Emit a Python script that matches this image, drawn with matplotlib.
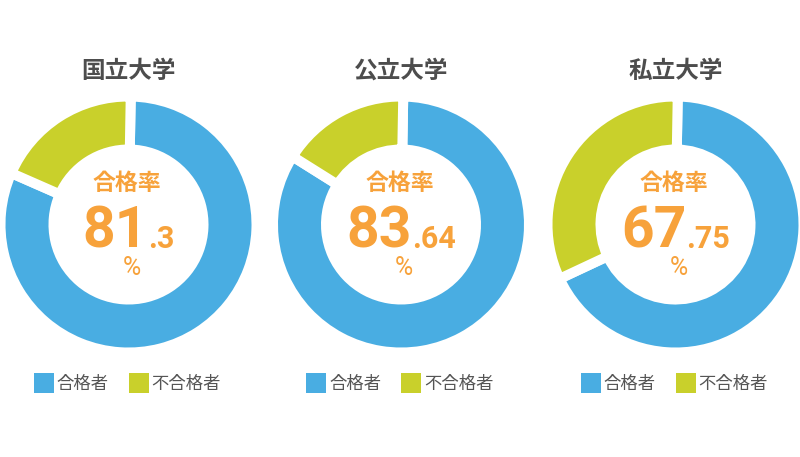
import matplotlib
matplotlib.use("Agg")
import matplotlib.pyplot as plt
from matplotlib.patches import Rectangle

plt.rcParams['font.family'] = ['Noto Sans CJK JP', 'DejaVu Sans']

# 大学区分ごとの合格率 (%)
schools = ["国立大学", "公立大学", "私立大学"]
pass_rate = ["81.3", "83.64", "67.75"]
legend_labels = ["合格者", "不合格者"]

BLUE = "#49ADE2"
GREEN = "#C9D02B"
ORANGE = "#F7A23B"
GRAY = "#4D4D4D"

W, H = 800, 457
centers_x = [128.5, 401, 675.5]
cy = H - 224.5

fig = plt.figure(figsize=(W / 100, H / 100), dpi=100)
ax = fig.add_axes([0, 0, 1, 1])

nums = []
for i, name in enumerate(schools):
    rate = float(pass_rate[i])
    cx = centers_x[i]

    ##### ドーナツ #####
    ax.pie([rate, 100 - rate], colors=[BLUE, GREEN], startangle=89,
           counterclock=False, center=(cx, cy), radius=128, frame=True,
           wedgeprops=dict(width=53, edgecolor="white", linewidth=7.2))

    # タイトル
    ax.text(cx, H - 71, name, fontsize=17, fontweight="bold", color=GRAY,
            ha="center", va="center")

    ##### 中央のテキスト #####
    ax.text(cx - 1.5, H - 183, "合格率", fontsize=16.5, fontweight="bold",
            color=ORANGE, ha="center", va="center")
    int_part, dec_part = pass_rate[i].split(".")
    big = ax.text(cx, H - 248, int_part, fontsize=41, fontweight="bold",
                  family=["Roboto"], color=ORANGE, ha="left", va="baseline")
    small = ax.text(cx, H - 248, "." + dec_part, fontsize=22, fontweight="bold",
                    family=["Roboto"], color=ORANGE, ha="left", va="baseline")
    nums.append((cx, big, small))
    ax.text(cx + 3, H - 268, "%", fontsize=18, family=["Roboto"],
            color=ORANGE, ha="center", va="center")

    ##### 凡例 #####
    for k, (dx, col) in enumerate([(-95, BLUE), (0, GREEN)]):
        ax.add_patch(Rectangle((cx + dx, H - 393), 20, 20, color=col, lw=0))
        ax.text(cx + dx + 23, H - 384, legend_labels[k], fontsize=12.5,
                color="#555555", ha="left", va="center")

ax.set_xlim(0, W)
ax.set_ylim(0, H)
ax.axis("off")

# 整数部と小数部をまとめて中央寄せ
r = fig.canvas.get_renderer()
for cx, big, small in nums:
    wb = big.get_window_extent(r).width
    ws = small.get_window_extent(r).width
    x0 = cx - (wb + ws) / 2
    big.set_x(x0)
    small.set_x(x0 + wb)

fig.savefig("out.png", dpi=100, facecolor="white")
